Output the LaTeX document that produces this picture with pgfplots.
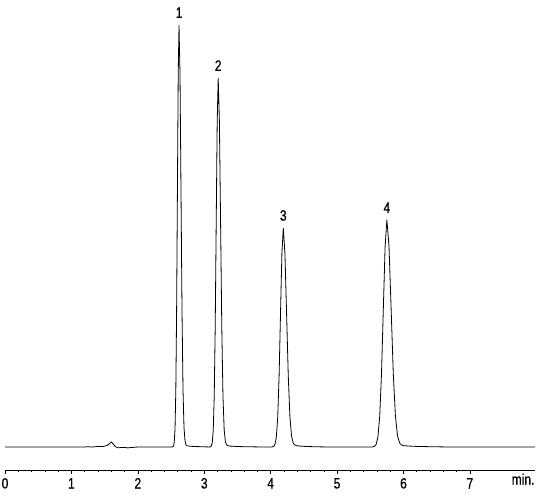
\documentclass[border=0pt]{standalone}
\usepackage{fontspec}
\setmainfont{Liberation Sans}[FakeStretch=0.8, FakeBold=0.6]
\usepackage{pgfplots}
\usepackage{pgfplotstable}
\pgfplotsset{compat=1.18}

% detector signal, baseline = 0
\pgfplotstableread{
t s
0 0
0.5 0
1.0 0
1.2 0
1.25 0.3
1.3 0
1.35 0.2
1.4 0.6
1.45 0.4
1.5 0.8
1.55 2.0
1.6 5.0
1.63 3.0
1.66 0.5
1.7 -0.8
1.75 -0.5
1.8 -0.4
1.85 -0.9
1.9 -0.5
2.0 0
2.3 0
2.5 0
2.524 0.13
2.536 0.93
2.548 4.68
2.560 18.5
2.572 57.1
2.584 137.0
2.596 255.9
2.608 372.4
2.620 422
2.635 372.4
2.650 255.9
2.665 137.0
2.680 57.6
2.695 19.5
2.710 6.2
2.725 2.2
2.740 1.2
2.80 0.7
2.90 0.4
3.00 0.2
3.05 0.1
3.090 0.11
3.105 0.81
3.120 4.10
3.135 16.2
3.150 49.9
3.165 119.8
3.180 223.8
3.195 325.6
3.210 369
3.228 325.6
3.246 223.8
3.264 119.8
3.282 50.4
3.300 17.2
3.318 5.6
3.336 2.2
3.354 1.3
3.40 0.9
3.50 0.5
3.60 0.3
3.80 0.1
4.00 0
4.022 0.07
4.043 0.48
4.064 2.43
4.085 9.6
4.106 29.6
4.127 71.1
4.148 132.8
4.169 193.3
4.190 219
4.215 193.3
4.240 132.8
4.265 71.1
4.290 30.1
4.315 10.6
4.340 3.9
4.365 1.9
4.390 1.3
4.45 0.9
4.55 0.5
4.70 0.2
4.90 0
5.2 0
5.5 0
5.534 0.07
5.561 0.50
5.588 2.52
5.615 9.97
5.642 30.7
5.669 73.7
5.696 137.7
5.723 200.3
5.750 227
5.782 200.3
5.814 137.7
5.846 73.7
5.878 31.2
5.910 11.0
5.942 4.0
5.974 1.9
6.006 1.3
6.10 0.9
6.20 0.6
6.40 0.3
6.60 0.1
6.80 0
7.98 0
}\signal

\pgfplotstableread{
t s lab
2.62 422 1
3.21 369 2
4.19 219 3
5.75 227 4
}\peaks

\begin{document}
\begin{tikzpicture}
\begin{axis}[
  name=ax,
  scale only axis,
  width=530pt, height=470pt,
  xmin=0, xmax=7.98,
  ymin=-23, ymax=447,
  axis x line*=bottom,
  axis y line=none,
  axis line style={-, line width=0.7pt},
  xtick={0,1,...,7},
  minor x tick num=4,
  xtick align=outside,
  major tick length=4pt,
  minor tick length=2pt,
  every tick/.style={black, line width=0.6pt},
  extra x ticks={7.8},
  extra x tick labels={min.},
  extra x tick style={major tick length=0pt},
  /pgf/number format/assume math mode=true,
  xticklabel style={font=\fontsize{15}{17}\selectfont, anchor=base, inner sep=0pt, yshift=-14.5pt},
  clip=false,
]
\addplot[black, line width=0.8pt] table[x=t, y=s] {\signal};
\addplot[draw=none, mark=none, nodes near coords, point meta=explicit symbolic,
  every node near coord/.style={font=\fontsize{15}{17}\selectfont, anchor=south, inner sep=0pt, yshift=7pt}]
  table[x=t, y=s, meta=lab] {\peaks};
\end{axis}
\path ([shift={(-5pt,-26pt)}]ax.south west) rectangle ([shift={(4pt,0pt)}]ax.north east);
\end{tikzpicture}
\end{document}
